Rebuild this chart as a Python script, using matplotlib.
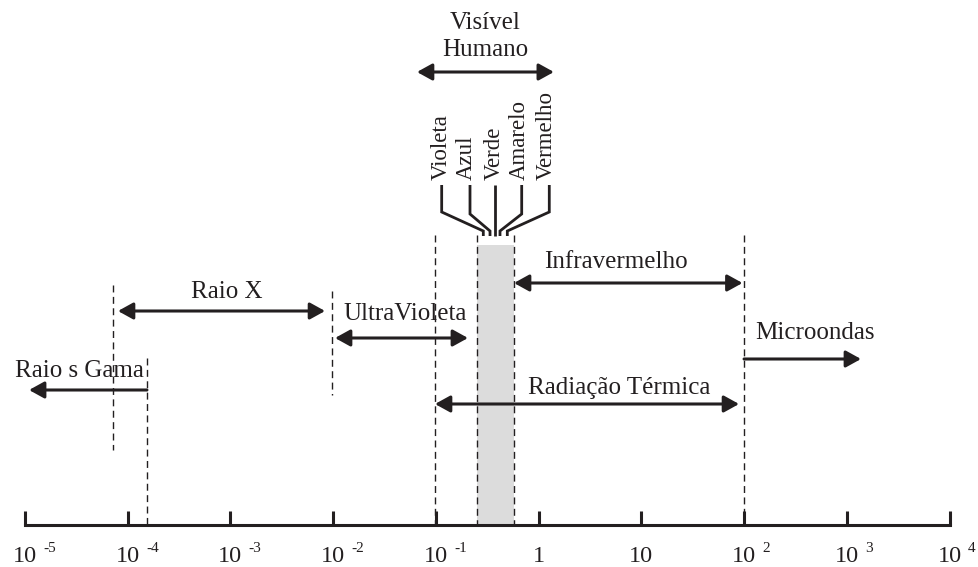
import numpy as np
import matplotlib
matplotlib.use("Agg")
import matplotlib.pyplot as plt
from matplotlib.ticker import NullLocator, FixedLocator
from matplotlib.transforms import offset_copy

# ---------------- data (wavelength, micrometres) ----------------
tick_values = [1e-5, 1e-4, 1e-3, 1e-2, 1e-1, 1, 10, 1e2, 1e3, 1e4]
tick_base = ["10", "10", "10", "10", "10", "1", "10", "10", "10", "10"]
tick_exp = ["-5", "-4", "-3", "-2", "-1", "", "", "2", "3", "4"]

band_labels = ["Raio X", "UltraVioleta", "Raio s Gama",
               "Radiação Térmica", "Infravermelho", "Microondas"]
band_start = [8.07e-5, 0.01045, 1.545e-4, 0.0982, 0.577, 100.0]
band_end = [8.36e-3, 0.2056, 1.10e-5, 89.4, 96.5, 1374.0]
band_label_x = [9.18e-4, 0.0507, 3.37e-5, 6.13, 5.61, 490.0]

visible_range = [0.0656, 1.41]
visible_label = ["Visível", "Humano"]
visible_label_x = 0.302

limit_values = [7.21e-5, 1.545e-4, 9.77e-3, 0.0982, 0.249, 0.581, 100.0]
gray_band = [0.249, 0.581]

color_names = ["Violeta", "Azul", "Verde", "Amarelo", "Vermelho"]
fan_top_x = [0.1141, 0.2152, 0.3770, 0.6855, 1.272]
fan_end_x = [0.2900, 0.3370, 0.3770, 0.4214, 0.4966]
color_label_x = [0.1285, 0.2251, 0.4214, 0.738, 1.352]

# ---------------- layout (vertical positions in pixels from top) ----------------
axis_y = 525
band_arrow_y = [311, 338, 390, 404, 283, 359]
band_label_y = [298, 320, 377, 394, 268, 339]
band_heads = ["<|-|>", "<|-|>", "-|>", "<|-|>", "<|-|>", "-|>"]
visible_arrow_y = 72
visible_label_y = [29, 56]
limit_top = [285, 358, 291, 235, 235, 235, 235]
limit_bottom = [450, 525, 395, 525, 525, 525, 525]
gray_top = 245
fan_bend_y = [212, 214, 214, 214, 212]

INK = "#231f20"
FONT = "Liberation Serif"
HEAD = ",head_length=0.38,head_width=0.21"

fig = plt.figure(figsize=(9.79, 5.67), dpi=100)
ax = fig.add_axes([0, 0, 1, 1])
ax.set_xscale("log")
# pixel mapping: x_px = 24.8 + 102.75*(log10(v)+5)
ax.set_xlim(10 ** (-5 - 24.8 / 102.75), 10 ** (-5 + (979 - 24.8) / 102.75))
ax.set_ylim(567, 0)

# axis
for s in ["left", "right", "top"]:
    ax.spines[s].set_visible(False)
ax.spines["bottom"].set_position(("data", axis_y))
ax.spines["bottom"].set_bounds(tick_values[0], tick_values[-1])
ax.spines["bottom"].set_linewidth(2.2)
ax.spines["bottom"].set_color(INK)
ax.xaxis.set_major_locator(FixedLocator(tick_values))
ax.xaxis.set_minor_locator(NullLocator())
ax.tick_params(axis="x", direction="in", length=10, width=2.2, color=INK,
               labelbottom=False)
ax.set_yticks([])
ax.patch.set_alpha(0)

# tick labels
for v, b, e in zip(tick_values, tick_base, tick_exp):
    ax.text(v, 562.5, b, ha="center", va="baseline", fontsize=17.5,
            family=FONT, color=INK)
    if e:
        tr = offset_copy(ax.transData, fig=fig, x=18.5, y=0, units="dots")
        ax.text(v, 551.5, e, ha="left", va="baseline", fontsize=11,
                family=FONT, color=INK, transform=tr)

# gray visible band
ax.fill_between(gray_band, gray_top, axis_y, color="#dcdcdc", lw=0, zorder=1)

# dashed limits
for v, t, b in zip(limit_values, limit_top, limit_bottom):
    ax.plot([v, v], [t, b], color=INK, lw=1.0, ls=(0, (5, 3.2)), zorder=2)

arrow_kw = dict(lw=2.2, color=INK, shrinkA=0, shrinkB=0, mutation_scale=24)

# band arrows and labels
for lab, s, e, y, lx, ly, hs in zip(band_labels, band_start, band_end,
                                     band_arrow_y, band_label_x, band_label_y,
                                     band_heads):
    ax.annotate("", xy=(e, y), xytext=(s, y),
                arrowprops=dict(arrowstyle=hs + HEAD, **arrow_kw), zorder=3)
    ax.text(lx, ly, lab, ha="center", va="baseline", fontsize=18,
            family=FONT, color=INK)

# visible arrow
ax.annotate("", xy=(visible_range[1], visible_arrow_y),
            xytext=(visible_range[0], visible_arrow_y),
            arrowprops=dict(arrowstyle="<|-|>" + HEAD, **arrow_kw))
for lab, ly in zip(visible_label, visible_label_y):
    ax.text(visible_label_x, ly, lab, ha="center", va="baseline", fontsize=18,
            family=FONT, color=INK)

# colour fan
for name, tx, ex, by, lx in zip(color_names, fan_top_x, fan_end_x, fan_bend_y,
                                color_label_x):
    ax.plot([tx, tx, ex, ex], [185, by, 231, 236], color=INK, lw=2.0,
            solid_joinstyle="miter", solid_capstyle="butt", zorder=3)
    ax.text(lx, 180, name, rotation=90, rotation_mode="anchor", ha="left",
            va="baseline", fontsize=16.5, family=FONT, color=INK)

fig.savefig("out.png", dpi=100)
